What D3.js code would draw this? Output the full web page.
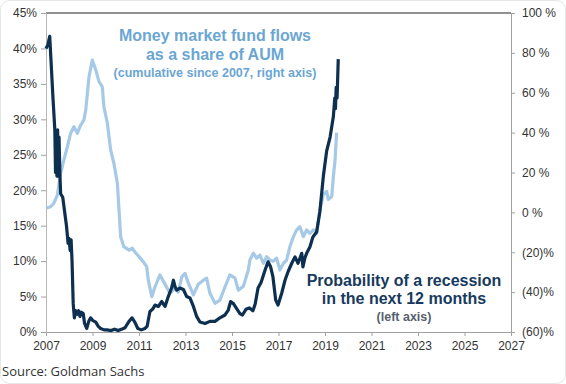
<!DOCTYPE html>
<html>
<head>
<meta charset="utf-8">
<script src="https://cdn.jsdelivr.net/npm/d3@7"></script>
<style>
  body { margin: 0; background: #fff; }
  text { font-family: "Liberation Sans", Arial, sans-serif; }
</style>
</head>
<body>
<div id="chart"></div>
<script>
(function () {

    // recession probability, left axis (%)
    var recessionYears = [2007.00, 2007.08, 2007.16, 2007.22, 2007.30, 2007.38, 2007.41, 2007.44, 2007.47, 2007.50,
        2007.53, 2007.56, 2007.60, 2007.63, 2007.72, 2007.80, 2007.88, 2007.95, 2007.99, 2008.04,
        2008.08, 2008.12, 2008.17, 2008.22, 2008.28, 2008.34, 2008.40, 2008.46, 2008.52, 2008.60,
        2008.66, 2008.75, 2008.84, 2008.92, 2009.02, 2009.14, 2009.25, 2009.35, 2009.50, 2009.62,
        2009.80, 2009.95, 2010.10, 2010.25, 2010.40, 2010.55, 2010.70, 2010.82, 2010.95, 2011.10,
        2011.25, 2011.35, 2011.47, 2011.58, 2011.69, 2011.83, 2011.98, 2012.12, 2012.26, 2012.40,
        2012.48, 2012.55, 2012.62, 2012.76, 2012.91, 2013.05, 2013.19, 2013.34, 2013.48, 2013.62,
        2013.84, 2014.05, 2014.27, 2014.48, 2014.70, 2014.84, 2014.94, 2015.06, 2015.20, 2015.34,
        2015.45, 2015.60, 2015.75, 2015.90, 2016.00, 2016.12, 2016.25, 2016.42, 2016.55, 2016.66,
        2016.76, 2016.88, 2016.98, 2017.14, 2017.28, 2017.41, 2017.57, 2017.71, 2017.84, 2018.00,
        2018.05, 2018.14, 2018.21, 2018.35, 2018.48, 2018.64, 2018.78, 2018.93, 2019.07, 2019.22,
        2019.36, 2019.42, 2019.45, 2019.48, 2019.52, 2019.57];
    var recessionProb = [40.0, 40.5, 41.7, 38.0, 33.0, 28.5, 22.5, 28.0, 22.0, 28.5,
        22.0, 27.5, 22.0, 19.5, 19.0, 17.0, 15.0, 12.5, 13.2, 11.5,
        13.0, 10.0, 4.0, 2.0, 3.0, 2.5, 3.0, 2.2, 2.8, 2.6,
        1.2, 0.5, 1.5, 2.0, 1.6, 1.4, 0.8, 0.5, 0.3, 0.3,
        0.2, 0.4, 0.2, 0.4, 0.6, 1.4, 2.0, 1.4, 0.5, 0.3,
        0.5, 0.8, 2.9, 3.2, 3.8, 3.6, 4.3, 3.6, 5.0, 6.2,
        7.3, 6.4, 5.9, 6.2, 6.0, 5.0, 4.8, 3.6, 2.2, 1.4,
        1.2, 1.5, 1.5, 2.0, 2.4, 3.1, 4.3, 4.0, 3.3, 2.6,
        2.4, 3.2, 3.4, 3.0, 4.0, 6.2, 7.0, 8.7, 9.9, 9.2,
        7.8, 4.5, 3.8, 5.5, 7.3, 8.5, 9.7, 10.6, 9.7, 11.1,
        9.2, 10.5, 11.1, 12.0, 13.4, 14.1, 17.0, 22.0, 25.5, 27.5,
        30.4, 33.0, 31.5, 34.5, 33.0, 38.5];

    // money market fund flows as share of AUM, right axis (%)
    var flowYears = [2007.03, 2007.20, 2007.34, 2007.49, 2007.63, 2007.77, 2007.92, 2008.06, 2008.20, 2008.35,
        2008.49, 2008.63, 2008.71, 2008.85, 2008.99, 2009.14, 2009.28, 2009.42, 2009.49, 2009.64,
        2009.78, 2009.92, 2010.07, 2010.14, 2010.21, 2010.35, 2010.57, 2010.71, 2010.86, 2011.00,
        2011.18, 2011.33, 2011.40, 2011.55, 2011.69, 2011.90, 2012.12, 2012.33, 2012.55, 2012.69,
        2012.84, 2012.98, 2013.12, 2013.34, 2013.55, 2013.77, 2013.91, 2014.05, 2014.27, 2014.48,
        2014.70, 2014.91, 2015.13, 2015.27, 2015.49, 2015.70, 2015.77, 2015.92, 2016.06, 2016.20,
        2016.35, 2016.49, 2016.63, 2016.77, 2016.92, 2017.06, 2017.21, 2017.35, 2017.49, 2017.64,
        2017.78, 2017.92, 2018.07, 2018.21, 2018.35, 2018.50, 2018.64, 2018.78, 2018.93, 2019.07,
        2019.14, 2019.29, 2019.36, 2019.43, 2019.50];
    var flowShare = [2.2, 2.8, 4.6, 8.7, 19.6, 26.3, 33.0, 39.7, 43.0, 39.7,
        43.8, 46.3, 51.4, 68.0, 76.4, 71.4, 65.6, 63.0, 53.0, 44.7,
        31.3, 24.6, 14.6, 1.2, -12.2, -17.2, -18.9, -17.9, -20.4, -22.2,
        -24.7, -27.2, -34.0, -42.3, -37.3, -31.4, -36.0, -40.6, -38.0, -40.0,
        -32.3, -30.6, -35.4, -41.4, -36.0, -34.0, -33.0, -40.6, -45.6, -44.0,
        -37.3, -31.4, -33.0, -39.0, -37.0, -29.0, -23.9, -20.5, -23.0, -21.4,
        -25.5, -22.2, -23.9, -24.5, -23.0, -28.9, -25.5, -24.0, -17.2, -12.2,
        -8.8, -7.2, -12.2, -8.8, -10.5, -8.8, -10.5, 1.2, 9.0, 10.5,
        6.5, 8.0, 18.0, 26.0, 40.0];

    var xTicks = [2007, 2009, 2011, 2013, 2015, 2017, 2019, 2021, 2023, 2025, 2027];
    var leftTicks = [0, 5, 10, 15, 20, 25, 30, 35, 40, 45];
    var rightTicks = [-60, -40, -20, 0, 20, 40, 60, 80, 100];

    var width = 566;
    var height = 384;
    var margin = { top: 13, right: 55, bottom: 52, left: 46 };

    var svg = d3.select("#chart")
        .append("svg")
        .attr("width", width)
        .attr("height", height)

    // faint frame round the picture
    svg.append("rect")
        .attr("x", 0.5).attr("y", 0.5)
        .attr("width", width - 1).attr("height", height - 1)
        .attr("rx", 9)
        .attr("fill", "none")
        .attr("stroke", "#e4e6e8")

    var x = d3.scaleLinear().domain([2007, 2027]).range([margin.left, width - margin.right])
    var yLeft = d3.scaleLinear().domain([0, 45]).range([height - margin.bottom, margin.top])
    var yRight = d3.scaleLinear().domain([-60, 100]).range([height - margin.bottom, margin.top])

    // top border
    svg.append("line")
        .attr("x1", margin.left).attr("x2", width - margin.right)
        .attr("y1", margin.top).attr("y2", margin.top)
        .attr("stroke", "#6b6b6b")
        .attr("stroke-width", 1.5)

    var xAxis = svg.append("g")
        .attr("transform", "translate(0," + (height - margin.bottom) + ")")
        .call(d3.axisBottom(x).tickValues(xTicks).tickFormat(d3.format("d")).tickSize(4).tickPadding(5))

    var leftAxis = svg.append("g")
        .attr("transform", "translate(" + margin.left + ",0)")
        .call(d3.axisLeft(yLeft).tickValues(leftTicks).tickFormat(function (d) { return d + "%"; }).tickSize(5).tickPadding(4))

    var rightAxis = svg.append("g")
        .attr("transform", "translate(" + (width - margin.right) + ",0)")
        .call(d3.axisRight(yRight).tickValues(rightTicks).tickFormat(function (d) {
            return d < 0 ? "(" + (-d) + ")%" : d + " %";
        }).tickSize(4).tickPadding(7))

    svg.selectAll(".domain").attr("stroke", "#a0a0a0")
    leftAxis.select(".domain").attr("stroke", "#b8b8b8")
    svg.selectAll(".tick line").attr("stroke", "#a0a0a0")
    svg.selectAll(".tick text")
        .attr("fill", "#333")
        .style("font-size", "12px")
        .style("font-family", "'Liberation Sans', Arial, sans-serif")

    var flowLine = d3.line()
        .x(function (d, i) { return x(flowYears[i]); })
        .y(function (d) { return yRight(d); })

    var recessionLine = d3.line()
        .x(function (d, i) { return x(recessionYears[i]); })
        .y(function (d) { return yLeft(d); })

    svg.append("path")
        .datum(flowShare)
        .attr("d", flowLine)
        .attr("fill", "none")
        .attr("stroke", "#a5c9e6")
        .attr("stroke-width", 3.2)
        .attr("stroke-linejoin", "round")

    svg.append("path")
        .datum(recessionProb)
        .attr("d", recessionLine)
        .attr("fill", "none")
        .attr("stroke", "#0d2f50")
        .attr("stroke-width", 3.2)
        .attr("stroke-linejoin", "round")

    // annotations
    var flowNote = svg.append("text")
        .attr("text-anchor", "middle")
        .attr("fill", "#6ba6d3")
        .style("font-weight", "bold")
    flowNote.append("tspan").attr("x", 215).attr("y", 41).style("font-size", "16px").text("Money market fund flows")
    flowNote.append("tspan").attr("x", 215).attr("y", 60).style("font-size", "16px").text("as a share of AUM")
    flowNote.append("tspan").attr("x", 215).attr("y", 77).style("font-size", "12.5px").text("(cumulative since 2007, right axis)")

    var recNote = svg.append("text")
        .attr("text-anchor", "middle")
        .style("font-weight", "bold")
    recNote.append("tspan").attr("x", 404).attr("y", 286).attr("fill", "#173a5e").style("font-size", "16px").text("Probability of a recession")
    recNote.append("tspan").attr("x", 404).attr("y", 304).attr("fill", "#173a5e").style("font-size", "16px").text("in the next 12 months")
    recNote.append("tspan").attr("x", 404).attr("y", 321).attr("fill", "#56616d").style("font-size", "12.5px").text("(left axis)")

    svg.append("text")
        .attr("x", 2)
        .attr("y", 376)
        .attr("fill", "#333")
        .style("font-family", "'Open Sans', sans-serif")
        .style("font-size", "13px")
        .text("Source: Goldman Sachs")

})();
</script>
</body>
</html>
